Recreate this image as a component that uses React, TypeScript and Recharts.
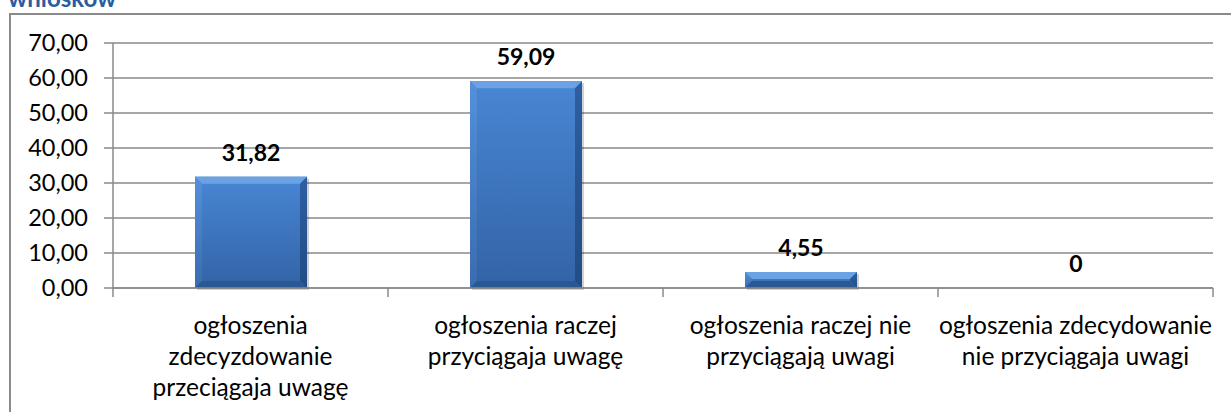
import React from "react";
import { BarChart, Bar, XAxis, YAxis, CartesianGrid, LabelList } from "recharts";

const categories = [
  "ogłoszenia zdecyzdowanie przeciągaja uwagę",
  "ogłoszenia raczej przyciągaja uwagę",
  "ogłoszenia raczej nie przyciągają uwagi",
  "ogłoszenia zdecydowanie nie przyciągaja uwagi",
];
// line breaks as in the original axis labels
const categoryLines = [
  ["ogłoszenia", "zdecyzdowanie", "przeciągaja uwagę"],
  ["ogłoszenia raczej", "przyciągaja uwagę"],
  ["ogłoszenia raczej nie", "przyciągają uwagi"],
  ["ogłoszenia zdecydowanie", "nie przyciągaja uwagi"],
];
const values = [31.82, 59.09, 4.55, 0];
const yTicks = [0, 10, 20, 30, 40, 50, 60, 70];

const data = categories.map((name, i) => ({ name, value: values[i] }));

const W = 1231;
const H = 412;
const margin = { top: 43, right: 18, left: 10, bottom: 4 };
const yAxisWidth = 103;
const bandWidth = (W - margin.left - margin.right - yAxisWidth) / categories.length;
const FONT = "Lato, 'Open Sans', sans-serif";

const fmt = (v: number) => (v === 0 ? "0" : v.toFixed(2).replace(".", ","));

const BevelBar = (props: any) => {
  const { x, y, width, height } = props;
  if (!height || height <= 0) return null;
  const b = Math.min(7, height / 2);
  const r = x + width;
  const btm = y + height;
  return (
    <g>
      <rect x={x + 2} y={y + 2} width={width} height={height} fill="rgba(0,0,0,0.18)" />
      <rect x={x} y={y} width={width} height={height} fill="url(#barGrad)" />
      <polygon points={`${x},${y} ${r},${y} ${r - b},${y + b} ${x + b},${y + b}`} fill="#6aa2e4" />
      <polygon points={`${x},${y} ${x + b},${y + b} ${x + b},${btm - b} ${x},${btm}`} fill="url(#leftGrad)" />
      <polygon points={`${r},${y} ${r},${btm} ${r - b},${btm - b} ${r - b},${y + b}`} fill="url(#rightGrad)" />
      <polygon points={`${x},${btm} ${x + b},${btm - b} ${r - b},${btm - b} ${r},${btm}`} fill="#2a5893" />
    </g>
  );
};

const CategoryTick = (props: any) => {
  const { x, y, index } = props;
  const lines = categoryLines[index] || [];
  const half = bandWidth / 2;
  return (
    <g>
      <line x1={x - half} y1={y - 8} x2={x - half} y2={y + 1} stroke="#8a8a8a" strokeWidth={1.5} />
      {index === categories.length - 1 && (
        <line x1={x + half} y1={y - 8} x2={x + half} y2={y + 1} stroke="#8a8a8a" strokeWidth={1.5} />
      )}
      <text textAnchor="middle" fontFamily={FONT} fontSize={24.5} fill="#000">
        {lines.map((l, i) => (
          <tspan key={i} x={x} y={y + 38 + i * 31}>
            {l}
          </tspan>
        ))}
      </text>
    </g>
  );
};

export default function App() {
  return (
    <div style={{ position: "absolute", left: 0, top: 0, width: W, height: H, overflow: "hidden", background: "#fff" }}>
      <div
        style={{
          position: "absolute",
          left: 9,
          top: 13,
          width: W,
          height: H,
          borderLeft: "2px solid #8a8a8a",
          borderTop: "2px solid #8a8a8a",
        }}
      />
      <div
        style={{
          position: "absolute",
          left: 8,
          top: -17,
          fontFamily: FONT,
          fontWeight: 700,
          fontSize: 24,
          lineHeight: "29px",
          color: "#2a5d9f",
        }}
      >
        wniosków
      </div>
      <div style={{ position: "absolute", left: 0, top: 0 }}>
        <BarChart width={W} height={H} data={data} margin={margin}>
          <defs>
            <linearGradient id="barGrad" x1="0" y1="0" x2="0" y2="1">
              <stop offset="0%" stopColor="#4886d4" />
              <stop offset="100%" stopColor="#3363a6" />
            </linearGradient>
            <linearGradient id="leftGrad" x1="0" y1="0" x2="0" y2="1">
              <stop offset="0%" stopColor="#5490da" />
              <stop offset="100%" stopColor="#3a6cae" />
            </linearGradient>
            <linearGradient id="rightGrad" x1="0" y1="0" x2="0" y2="1">
              <stop offset="0%" stopColor="#2d5fa2" />
              <stop offset="100%" stopColor="#224c85" />
            </linearGradient>
          </defs>
          <CartesianGrid vertical={false} stroke="#8a8a8a" strokeWidth={1.5} />
          <XAxis
            dataKey="name"
            height={120}
            interval={0}
            axisLine={{ stroke: "#8a8a8a", strokeWidth: 1.5 }}
            tickLine={false}
            tick={<CategoryTick />}
          />
          <YAxis
            width={yAxisWidth}
            domain={[0, 70]}
            ticks={yTicks}
            interval={0}
            tickFormatter={(v: number) => v.toFixed(2).replace(".", ",")}
            tickSize={9}
            tickMargin={16}
            axisLine={{ stroke: "#8a8a8a", strokeWidth: 1.5 }}
            tickLine={{ stroke: "#8a8a8a", strokeWidth: 1.5 }}
            tick={{ fontFamily: FONT, fontSize: 23.5, fill: "#000" }}
          />
          <Bar dataKey="value" isAnimationActive={false} shape={<BevelBar />} barSize={112}>
            <LabelList
              dataKey="value"
              position="top"
              offset={16}
              formatter={(v: any) => fmt(Number(v))}
              style={{ fontFamily: FONT, fontSize: 23, fontWeight: 700, fill: "#000" }}
            />
          </Bar>
        </BarChart>
      </div>
    </div>
  );
}
